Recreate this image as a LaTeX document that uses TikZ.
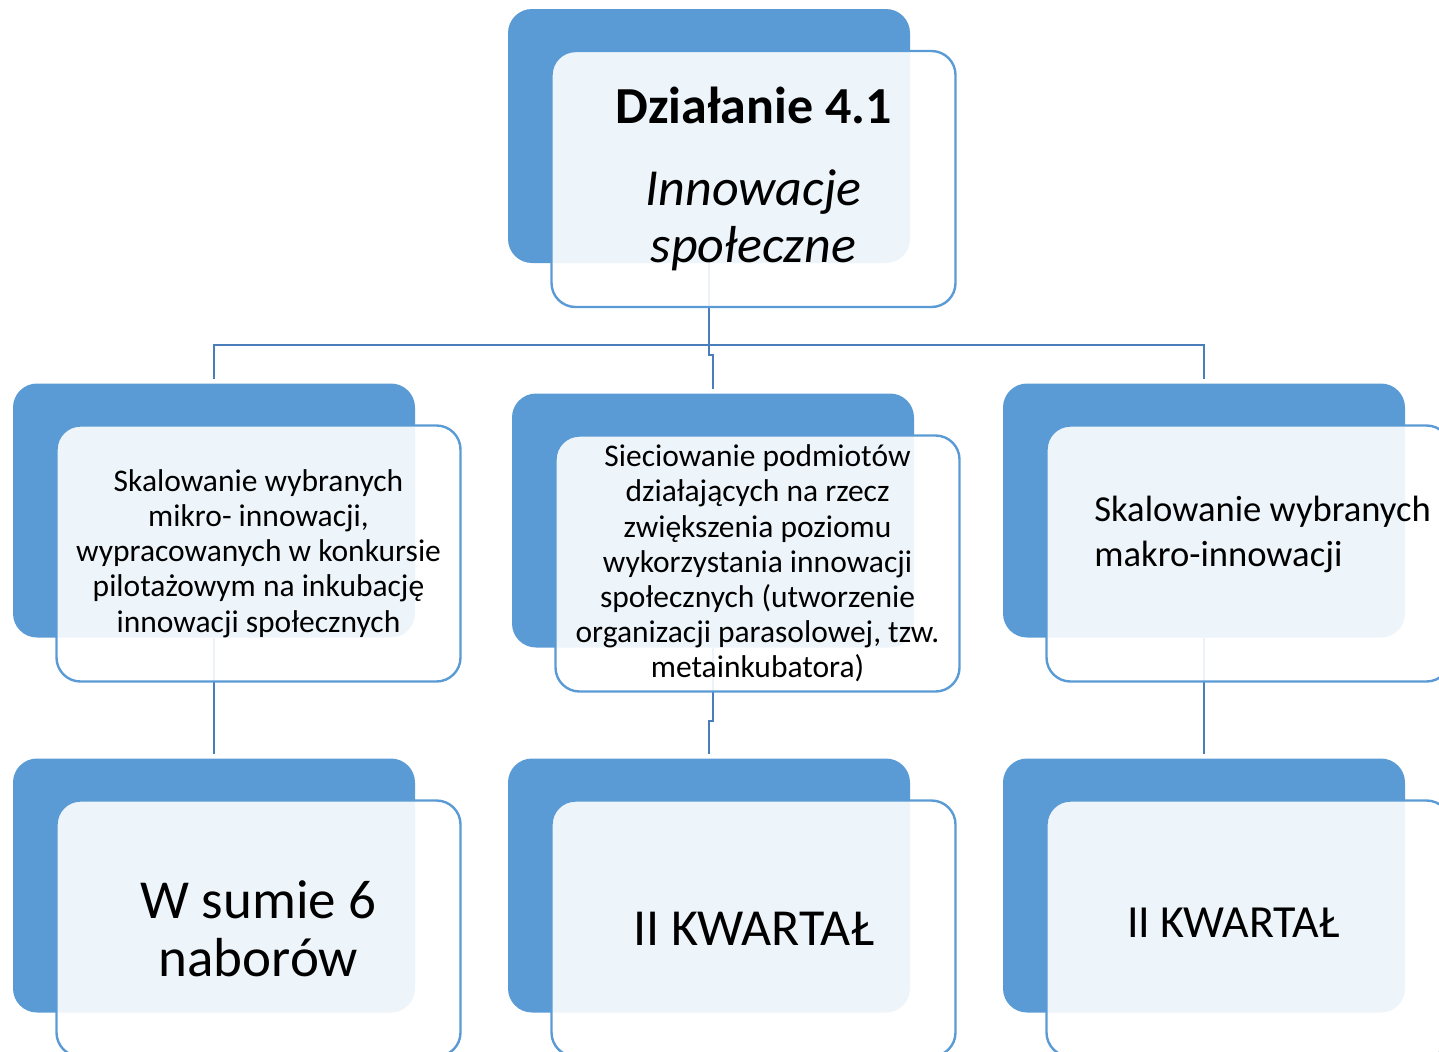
\documentclass[tikz,border=0pt]{standalone}
\usepackage{fontspec}
\setmainfont{Carlito}
\usepackage{tikz}
\usetikzlibrary{calc}
\usetikzlibrary{positioning}
\definecolor{accent}{HTML}{5B9BD5}
\definecolor{linkblue}{HTML}{4A7EBB}

\begin{document}
\begin{tikzpicture}[
x=0.5pt, y=-0.5pt,
BackBox/.style={fill=accent, draw=none, rounded corners=12pt, minimum width=201pt, minimum height=127pt, inner sep=0pt},
FrontBox/.style={draw=accent, line width=1.2pt, fill=white, fill opacity=0.9, text opacity=1, rounded corners=12pt, minimum width=202pt, minimum height=128pt, inner sep=0pt, align=center},
Links/.style={draw=linkblue, line width=1.2pt},
SmallText/.style={font=\fontsize{15.75}{17.6}\selectfont}
]

\clip (0,0) rectangle (1439,1051);

% back boxes
\node[BackBox] (b1) at (709,136) {};
\node[BackBox] (b21) at (214,510.5) {};
\node[BackBox] (b22) at (713,520.5) {};
\node[BackBox] (b23) at (1204,510.5) {};
\node[BackBox] (b31) at (214,885.5) {};
\node[BackBox] (b32) at (709,885.5) {};
\node[BackBox] (b33) at (1204,885.5) {};

% connectors
\coordinate (bus) at (709,345);
\draw[Links] (b1.south) -- (bus) -| ([yshift=2pt]b21.north);
\draw[Links] (bus) -| ([yshift=2pt]b23.north);
\draw[Links] (bus) -- ++(0,10) -| ([yshift=2pt]b22.north);

\draw[Links] (b21.south) -- ([yshift=2pt]b31.north);
\draw[Links] (b22.south) -- ++(0,73) -| ([yshift=2pt]b32.north);
\draw[Links] (b23.south) -- ([yshift=2pt]b33.north);

% front boxes
\node[FrontBox, font=\fontsize{26}{28.5}\selectfont] (f1) at ($(b1)+(44.5,43)$)
  {\textbf{Działanie 4.1}\\[12.5pt]\textit{Innowacje}\\\textit{społeczne}};

\node[FrontBox, SmallText] (f21) at ($(b21)+(44.5,43)$)
  {Skalowanie wybranych\\mikro- innowacji,\\wypracowanych w konkursie\\pilotażowym na inkubację\\innowacji społecznych};
\node[FrontBox, SmallText] (f22) at ($(b22)+(44.5,43)$)
  {Sieciowanie podmiotów\\działających na rzecz\\zwiększenia poziomu\\wykorzystania innowacji\\społecznych (utworzenie\\organizacji parasolowej, tzw.\\metainkubatora)};
\node[FrontBox] (f23) at ($(b23)+(44.5,43)$) {};
\node[anchor=west, inner sep=0pt, align=left, font=\fontsize{18.3}{22.5}\selectfont] (t23) at (1094,534.5)
  {Skalowanie wybranych\\makro-innowacji};

\node[FrontBox, font=\fontsize{27.5}{29}\selectfont] (f31) at ($(b31)+(44.5,43)$)
  {W sumie 6\\naborów};
\node[FrontBox, font=\fontsize{26}{28}\selectfont] (f32) at ($(b32)+(44.5,43)$)
  {II KWARTAŁ};
\node[FrontBox] (f33) at ($(b33)+(44.5,43)$) {};
\node[inner sep=0pt, font=\fontsize{23}{25}\selectfont] (t33) at (1233,922.5)
  {II KWARTAŁ};

\end{tikzpicture}
\end{document}
